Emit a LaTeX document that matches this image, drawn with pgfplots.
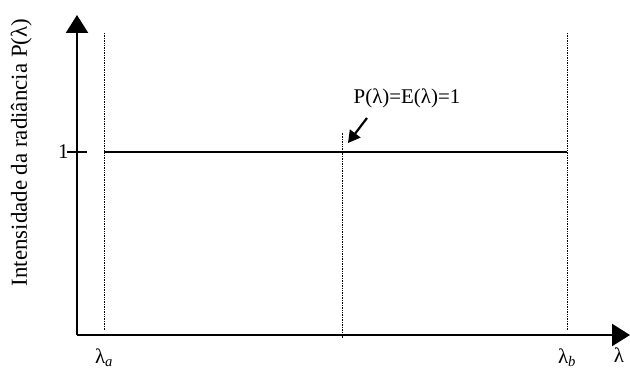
\documentclass[border=0pt]{standalone}
\usepackage{fontspec}
\setmainfont{Liberation Serif}
\usepackage{pgfplots}
\pgfplotsset{compat=1.18}
\usetikzlibrary{arrows.meta}
\begin{document}
\begin{tikzpicture}
\useasboundingbox (0,0) rectangle (630bp,371bp);
\begin{axis}[
  at={(77bp,36bp)}, anchor=south west,
  scale only axis, width=553bp, height=320bp,
  xmin=0, xmax=553, ymin=0, ymax=1.7486,
  axis lines=left,
  axis line style={line width=2.4pt, -{Triangle[length=18bp,width=22bp]}},
  clip=false,
  font=\fontsize{20}{24}\selectfont,
  xtick={27,490}, xticklabels={λ\textsubscript{\textit{a}}, λ\textsubscript{\textit{b}}},
  ytick={1}, yticklabels={1},
  x tick style={draw=none},
  y tick style={line width=1.4pt, black},
  major tick length=20bp, tick align=center,
  xticklabel style={yshift=-13bp, anchor=center, font=\fontsize{21}{24}\selectfont},
  yticklabel style={xshift=5bp, font=\fontsize{21}{24}\selectfont},
  xlabel={λ},
  xlabel style={at={(axis description cs:0.980,-0.062)}, anchor=center, font=\fontsize{21}{24}\selectfont},
  ylabel={Intensidade da radiância P(λ)},
  ylabel style={at={(axis description cs:-0.101,0.57)}, anchor=center, font=\fontsize{23}{26}\selectfont},
]
\addplot[black, line width=1.7pt] coordinates {(27,1) (490,1)};
\addplot[black, line width=0.7pt, dash pattern=on 0.7pt off 1pt] coordinates {(27,0.027) (27,1.65)};
\addplot[black, line width=0.7pt, dash pattern=on 0.7pt off 1pt] coordinates {(490,0.027) (490,1.65)};
\addplot[black, line width=0.7pt, dash pattern=on 0.7pt off 1pt] coordinates {(265,-0.016) (265,1.104)};
\node[font=\fontsize{21}{24}\selectfont] at (axis cs:330,1.295) {P(λ)=E(λ)=1};
\draw[line width=2.2pt, -{Triangle[length=12bp,width=13bp]}] (axis cs:290,1.186) -- (axis cs:271,1.049);
\end{axis}
\end{tikzpicture}
\end{document}
